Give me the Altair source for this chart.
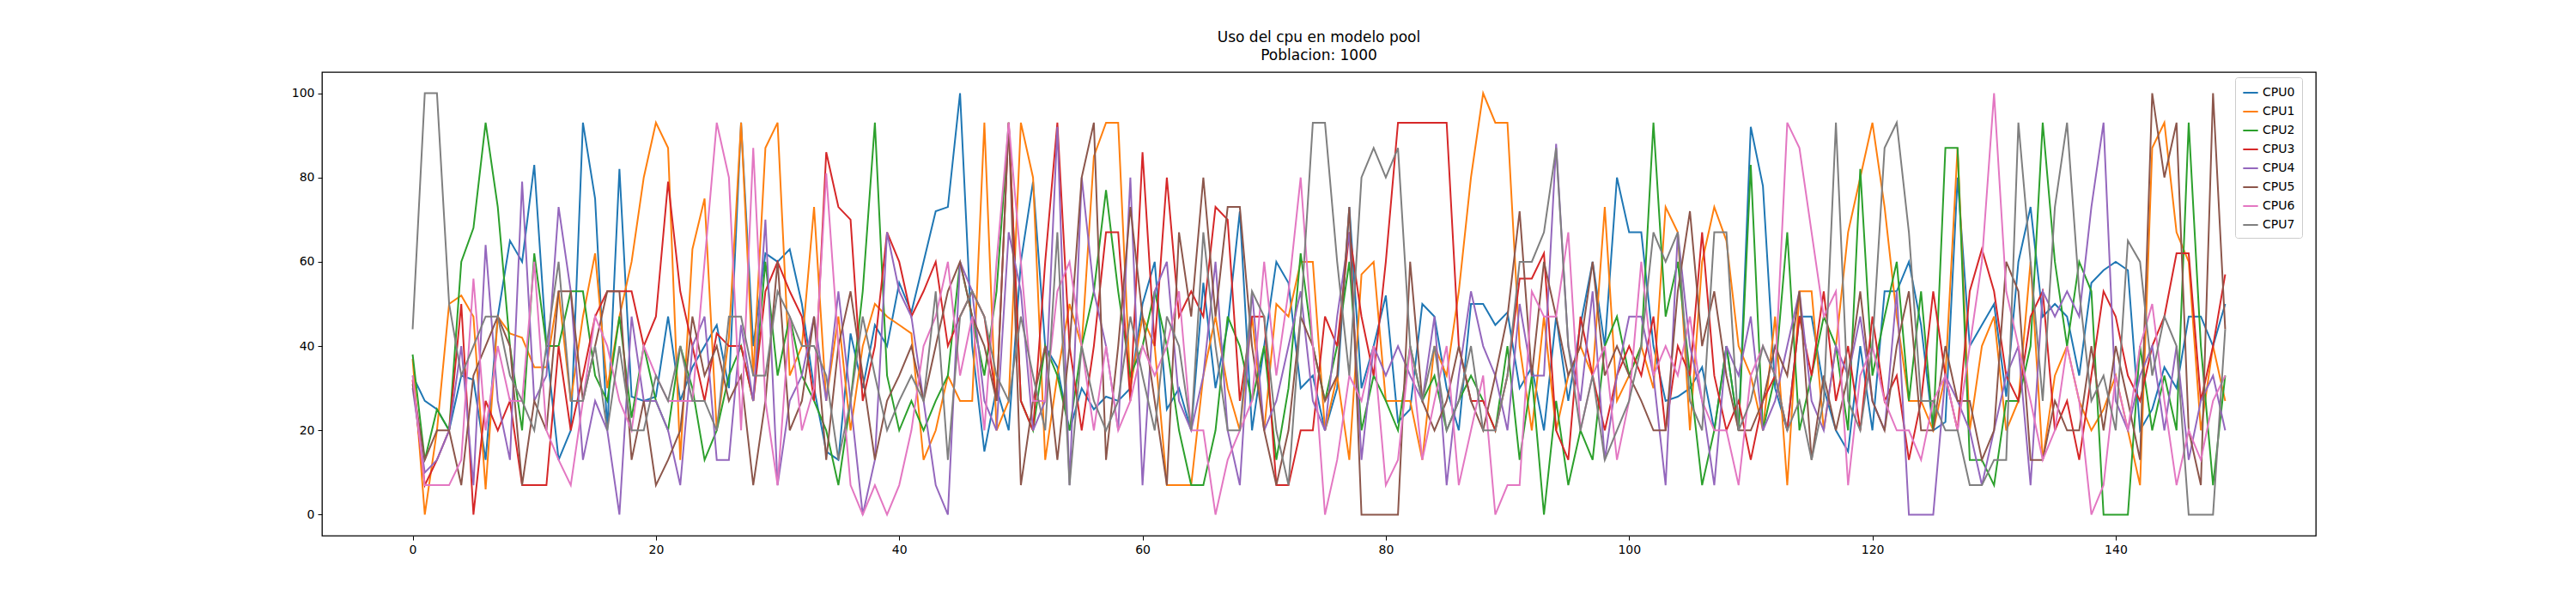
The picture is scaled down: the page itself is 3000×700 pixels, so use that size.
import altair as alt
import pandas as pd

cpu0 = [33,27,25,20,33,32,13,47,65,60, 83,40,13,20,93,75,20,82,28,27,
        28,47,27,35,40,45,30,93,40,62, 60,63,50,30,15,13,43,30,45,40,
        55,48,60,72,73,100,40,15,30,20, 60,79,40,35,20,30,25,28,27,30,
        50,60,25,30,20,55,30,45,72,20, 40,60,55,30,33,20,30,73,30,40,
        52,22,25,50,47,30,20,50,50,45, 48,30,35,20,47,27,45,60,40,80,
        67,67,40,27,28,30,35,20,40,20, 92,78,30,20,47,47,30,20,15,40,
        20,53,53,60,45,20,22,80,40,45, 50,28,60,73,47,50,47,33,55,58,
        60,58,20,25,35,30,47,47,40,50]
cpu1 = [37,0,20,50,52,47,6,47,43,42, 35,35,53,27,47,62,30,47,60,80,
        93,87,13,63,75,20,42,93,33,87, 93,33,40,73,27,47,20,40,50,47,
        45,43,13,20,33,27,27,93,20,27, 93,80,13,33,50,40,85,93,93,30,
        47,40,7,7,7,33,47,30,20,47, 20,50,47,60,60,20,33,13,57,60,
        27,27,27,13,40,33,53,80,100,93, 93,40,20,47,20,33,40,33,73,27,
        33,40,30,73,67,20,60,73,65,40, 33,20,47,7,53,53,20,40,67,80,
        93,73,47,27,27,20,33,87,20,40, 47,20,27,60,13,33,40,27,20,25,
        33,20,7,87,93,67,60,20,40,27]
cpu2 = [38,13,25,20,60,68,93,73,40,20, 62,40,40,53,53,33,27,47,23,40,
        27,20,40,30,13,20,33,40,27,60, 33,47,33,27,20,7,27,53,93,33,
        20,27,20,27,33,60,47,33,53,93, 27,20,40,33,20,40,53,77,53,33,
        40,53,40,20,7,7,20,47,40,27, 40,13,30,62,40,27,40,60,20,33,
        27,20,40,27,33,20,27,33,27,20, 40,13,33,0,27,7,20,13,40,47,
        33,40,93,47,60,33,7,20,40,20, 83,20,33,67,20,33,47,40,20,82,
        33,47,60,27,53,20,87,87,13,13, 7,27,27,40,93,60,40,60,53,0,
        0,0,40,20,33,20,93,40,7,33]
cpu3 = [32,7,13,20,50,0,27,20,27,7, 7,7,40,20,33,47,53,53,53,40,
        47,79,53,40,27,43,40,40,27,53, 60,53,47,27,86,73,70,27,40,67,
        60,47,53,60,40,47,53,47,27,93, 27,20,60,93,40,20,40,67,67,27,
        86,40,80,47,53,47,73,70,27,47, 47,7,7,20,20,47,40,67,47,33,
        60,93,93,93,93,93,40,27,27,20, 33,56,56,62,20,13,47,33,20,33,
        40,33,47,20,40,33,67,33,20,27, 13,27,33,20,47,33,53,27,40,20,
        47,27,33,13,27,53,33,20,53,63, 53,33,27,47,53,20,27,13,33,53,
        47,33,27,40,47,62,62,27,40,57]
cpu4 = [30,10,13,20,40,7,64,27,13,79, 27,33,73,53,13,27,20,0,47,27,
        27,20,7,40,47,13,13,45,27,70, 7,27,33,47,27,53,27,0,13,67,
        53,47,27,7,0,60,53,27,20,67, 53,20,27,92,7,80,53,40,20,80,
        7,53,60,27,20,33,60,20,7,53, 20,27,40,53,27,20,47,67,13,40,
        33,40,33,27,47,7,33,53,40,33, 20,50,33,33,88,40,27,53,13,33,
        47,47,33,7,67,40,27,7,40,33, 47,20,27,40,53,27,20,40,33,47,
        27,20,53,0,0,0,33,27,20,7, 20,33,40,7,53,47,53,47,73,93,
        27,20,33,40,20,40,13,27,33,20]
cpu5 = [31,13,20,20,7,33,40,47,40,7, 27,20,53,53,27,40,53,53,13,27,
        7,13,20,47,33,40,27,33,7,27, 60,20,27,47,13,40,53,33,13,27,
        33,40,27,40,53,60,47,40,27,93, 7,27,40,13,40,80,93,13,40,73,
        47,27,7,67,47,80,47,73,73,40, 20,7,20,47,40,27,33,73,0,0,
        0,0,60,27,20,27,40,27,20,33, 47,72,33,60,47,33,40,60,33,40,
        33,27,20,20,53,72,40,53,33,20, 20,27,40,33,53,13,33,20,33,53,
        27,20,40,53,20,20,40,27,27,13, 20,60,53,13,13,27,20,20,40,20,
        40,27,13,100,80,93,20,7,100,44]
cpu6 = [33,7,7,7,13,56,20,40,27,27, 60,20,13,7,27,47,40,27,20,40,
        33,27,27,27,60,93,80,20,87,27, 7,47,20,30,81,40,7,0,7,0,
        7,20,40,47,60,33,47,20,60,93, 60,27,27,53,60,40,20,40,20,27,
        40,33,40,53,20,20,0,13,20,27, 60,33,53,80,40,0,13,33,27,40,
        7,13,40,13,27,40,7,20,33,0, 7,7,53,47,47,67,20,33,40,13,
        27,60,33,40,33,47,27,20,20,7, 33,40,33,93,87,67,47,53,7,33,
        40,27,20,20,13,27,33,20,40,60, 100,53,40,27,13,20,40,27,0,7,
        33,20,40,50,27,7,20,13,27,33]
cpu7 = [44,100,100,50,33,40,47,47,33,27, 20,40,60,27,27,40,20,40,20,20,
        33,27,40,27,27,20,47,47,33,33, 53,47,40,40,33,13,27,47,33,20,
        27,33,27,53,13,47,53,47,33,27, 47,33,20,67,7,40,27,20,27,47,
        33,20,47,40,20,67,40,20,20,53, 47,20,7,47,93,93,60,33,80,87,
        80,87,40,27,40,20,27,40,20,20, 33,60,60,67,87,40,20,33,13,20,
        27,40,67,60,67,27,20,67,67,20, 27,40,33,20,27,13,27,93,27,20,
        40,87,93,67,27,27,20,20,7,7, 13,13,93,60,27,73,93,53,27,33,
        20,65,60,33,47,40,0,0,0,44]

series = [cpu0, cpu1, cpu2, cpu3, cpu4, cpu5, cpu6, cpu7]
names = [f"CPU{i}" for i in range(8)]
colors = ['#1f77b4', '#ff7f0e', '#2ca02c', '#d62728',
          '#9467bd', '#8c564b', '#e377c2', '#7f7f7f']

rows = []
for name, vals in zip(names, series):
    assert len(vals) == 150, (name, len(vals))
    for i, v in enumerate(vals):
        rows.append({'t': i, 'uso': v, 'cpu': name})
df = pd.DataFrame(rows)

chart = alt.Chart(df).mark_line(strokeWidth=2, clip=True).encode(
    x=alt.X('t:Q', title=None, scale=alt.Scale(domain=[-7.45, 156.45], nice=False, zero=False),
            axis=alt.Axis(values=list(range(0, 160, 20)))),
    y=alt.Y('uso:Q', title=None, scale=alt.Scale(domain=[-5, 105], nice=False),
            axis=alt.Axis(values=list(range(0, 120, 20)))),
    color=alt.Color('cpu:N', title=None,
                    scale=alt.Scale(domain=names, range=colors),
                    legend=alt.Legend(orient='none', legendX=2228, legendY=6,
                                      symbolType='stroke', symbolStrokeWidth=2,
                                      symbolSize=300, labelFontSize=14,
                                      rowPadding=5, padding=8,
                                      fillColor='white', strokeColor='#cccccc',
                                      cornerRadius=3)),
    detail='cpu:N'
).properties(
    width=2322,
    height=540,
    autosize=alt.AutoSizeParams(type='none'),
    padding={'left': 367, 'top': 76, 'right': 20, 'bottom': 60},
    title=alt.TitleParams(['Uso del cpu en modelo pool', 'Poblacion: 1000'],
                          fontSize=17, fontWeight='normal', anchor='middle',
                          offset=10, lineHeight=21)
).configure_view(
    stroke='black', strokeWidth=1.3
).configure_axis(
    grid=False, domain=False, tickColor='black', tickSize=5,
    labelColor='black', labelFontSize=14, labelFont='DejaVu Sans', labelPadding=4
).configure_legend(
    labelFont='DejaVu Sans'
).configure_title(
    font='DejaVu Sans', color='black'
)

chart.save("out.html", embed_options={"renderer": "svg", "actions": False})
